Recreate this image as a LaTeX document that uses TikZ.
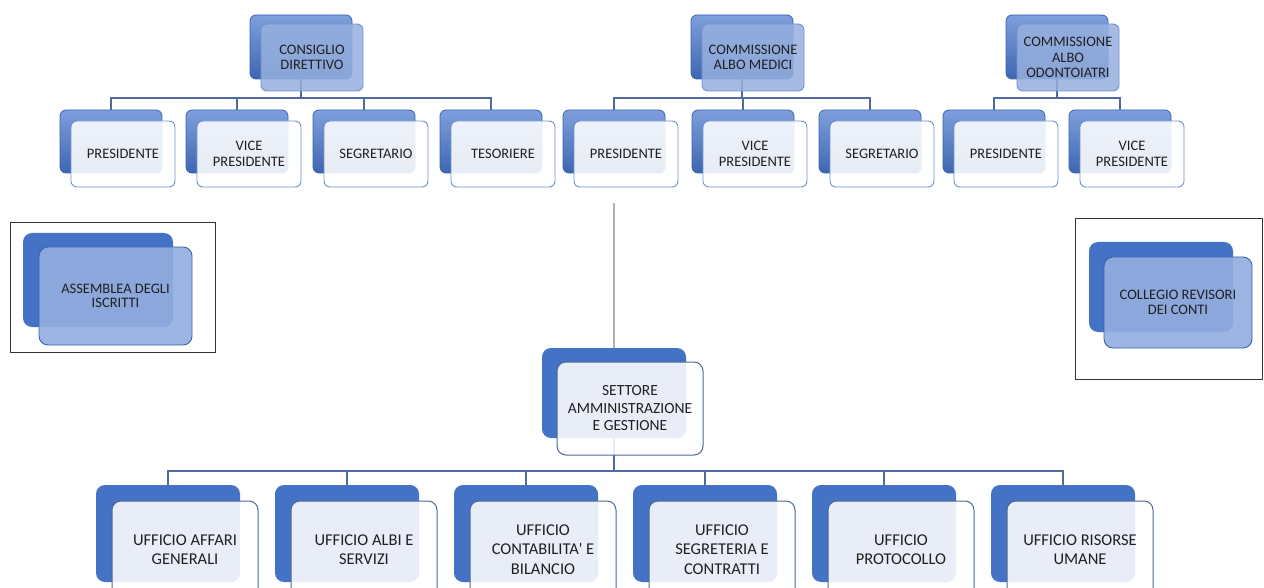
\documentclass[tikz,border=0pt]{standalone}
\usepackage{fontspec}
\setmainfont{Carlito}
\usetikzlibrary{backgrounds}
\definecolor{mblue}{HTML}{4472C4}
\definecolor{dblue}{HTML}{3A63AE}
\definecolor{lblue}{HTML}{7E9FDD}
\definecolor{pfront}{HTML}{97B0DF}
\definecolor{sfront}{HTML}{93ADDF}
\definecolor{connc}{HTML}{4F6A9C}
\definecolor{bborder}{HTML}{4F6894}
\definecolor{tborder}{HTML}{7391CB}
\definecolor{txt}{HTML}{202020}
\tikzset{
  box/.style={rounded corners=6pt, inner sep=0pt, align=center, text=txt},
  tback/.style={box, draw=dblue, line width=0.8pt, top color=lblue, bottom color=mblue!90!black},
  pfrontbox/.style={box, draw=tborder, line width=0.9pt, fill=pfront, fill opacity=0.85, text opacity=1,
     font=\fontsize{14.5}{15.5}\selectfont},
  cfrontbox/.style={box, draw=tborder, line width=0.9pt, fill=white, fill opacity=0.88, text opacity=1,
     font=\fontsize{14.5}{15.5}\selectfont},
  sback/.style={box, rounded corners=9pt, fill=mblue},
  sfrontbox/.style={box, rounded corners=9pt, draw=dblue, line width=0.9pt, fill=sfront, fill opacity=0.9, text opacity=1,
     font=\fontsize{14.5}{14.5}\selectfont},
  bback/.style={box, rounded corners=9pt, fill=mblue},
  bfrontbox/.style={box, rounded corners=9pt, draw=bborder, line width=1pt, fill=white, fill opacity=0.88, text opacity=1,
     font=\fontsize{16.5}{19.5}\selectfont},
  setfront/.style={bfrontbox, font=\fontsize{15.5}{17.5}\selectfont},
  pb/.style={tback, minimum width=102pt, minimum height=64pt},
  pf/.style={pfrontbox, minimum width=102pt, minimum height=67pt},
  cb/.style={tback, minimum width=102pt, minimum height=63pt},
  cf/.style={cfrontbox, minimum width=104pt, minimum height=66pt},
  ub/.style={bback, minimum width=144pt, minimum height=97pt},
  uf/.style={bfrontbox, minimum width=146pt, minimum height=97pt},
  conn/.style={draw=connc, line width=1.3pt},
  gline/.style={draw=gray!60, line width=1.2pt},
  frame/.style={draw=black!80, line width=0.9pt}
}
\begin{document}
\begin{tikzpicture}[x=1pt,y=-1pt]
\path[use as bounding box, clip] (0,0) rectangle (1264,588);

% ---- Group 1: Consiglio direttivo
\node[pb] (cdb) at (301,47) {};
\node[pf] (cd) at (312,57.5) {CONSIGLIO\\DIRETTIVO};
\foreach \n/\x/\t in {a1/111/PRESIDENTE, a2/237/{VICE\\PRESIDENTE}, a3/364/SEGRETARIO, a4/491/TESORIERE}{
  \node[cb] (\n b) at (\x,141.5) {};
  \node[cf] (\n) at (\x+12,154) {\t};
}
% ---- Group 2: Commissione albo medici
\node[pb] (cmb) at (742,47) {};
\node[pf] (cm) at (753,57.5) {COMMISSIONE\\ALBO MEDICI};
\foreach \n/\x/\t in {m1/614/PRESIDENTE, m2/743/{VICE\\PRESIDENTE}, m3/870/SEGRETARIO}{
  \node[cb] (\n b) at (\x,141.5) {};
  \node[cf] (\n) at (\x+12,154) {\t};
}
% ---- Group 3: Commissione albo odontoiatri
\node[pb] (cob) at (1057,47) {};
\node[pf] (co) at (1068,57.5) {COMMISSIONE\\ALBO\\ODONTOIATRI};
\foreach \n/\x/\t in {o1/994/PRESIDENTE, o2/1120/{VICE\\PRESIDENTE}}{
  \node[cb] (\n b) at (\x,141.5) {};
  \node[cf] (\n) at (\x+12,154) {\t};
}

% ---- Side boxes
\draw[frame] (10,222) rectangle (215,352);
\node[sback, minimum width=150pt, minimum height=94pt] (asb) at (98,280) {};
\node[sfrontbox, minimum width=153pt, minimum height=98pt] (as) at (115.5,296) {ASSEMBLEA DEGLI\\ISCRITTI};
\draw[frame] (1075,218) rectangle (1262,379);
\node[sback, minimum width=144pt, minimum height=90pt] (crb) at (1161,287) {};
\node[sfrontbox, minimum width=148pt, minimum height=91pt] (cr) at (1178,302.5) {COLLEGIO REVISORI\\DEI CONTI};

% ---- Settore
\node[bback, minimum width=144pt, minimum height=90pt] (seb) at (614,393) {};
\node[setfront, minimum width=146pt, minimum height=93pt] (se) at (630,408.5) {SETTORE\\AMMINISTRAZIONE\\E GESTIONE};

% ---- Uffici
\foreach \n/\x/\t in {u1/168/{UFFICIO AFFARI\\GENERALI}, u2/347/{UFFICIO ALBI E\\SERVIZI},
  u3/526/{UFFICIO\\CONTABILITA\textquotesingle{} E\\BILANCIO}, u4/705/{UFFICIO\\SEGRETERIA E\\CONTRATTI},
  u5/884/{UFFICIO\\PROTOCOLLO}, u6/1063/{UFFICIO RISORSE\\UMANE}}{
  \node[ub] (\n b) at (\x,533.5) {};
  \node[uf] (\n) at (\x+17,549.5) {\t};
}

\coordinate (top) at (614,203);

\begin{scope}[on background layer]
  \fill[white] (0,0) rectangle (1264,588);
  % group 1
  \coordinate (j1) at (301,98);
  \draw[conn] (cdb.south) -- (j1);
  \draw[conn] (a1b.north) -- (a1b.north |- j1) -- (a4b.north |- j1) -- (a4b.north);
  \draw[conn] (a2b.north) -- (a2b.north |- j1);
  \draw[conn] (a3b.north) -- (a3b.north |- j1);
  % group 2
  \coordinate (j2) at (742,98);
  \draw[conn] (cmb.south) -- (j2);
  \draw[conn] (m1b.north) -- (m1b.north |- j2) -- (m3b.north |- j2) -- (m3b.north);
  \draw[conn] (m2b.north) -- (m2b.north |- j2);
  % group 3
  \coordinate (j3) at (1057,98);
  \draw[conn] (cob.south) -- (j3);
  \draw[conn] (o1b.north) -- (o1b.north |- j3) -- (o2b.north |- j3) -- (o2b.north);
  % settore
  \draw[gline] (top) -- (seb.south);
  \coordinate (j4) at (614,471);
  \draw[conn] (seb.south) -- (j4);
  \draw[conn] (u1b.north) -- (u1b.north |- j4) -- (u6b.north |- j4) -- (u6b.north);
  \foreach \n in {u2,u3,u4,u5}{ \draw[conn] (\n b.north) -- (\n b.north |- j4); }
\end{scope}
\end{tikzpicture}
\end{document}
